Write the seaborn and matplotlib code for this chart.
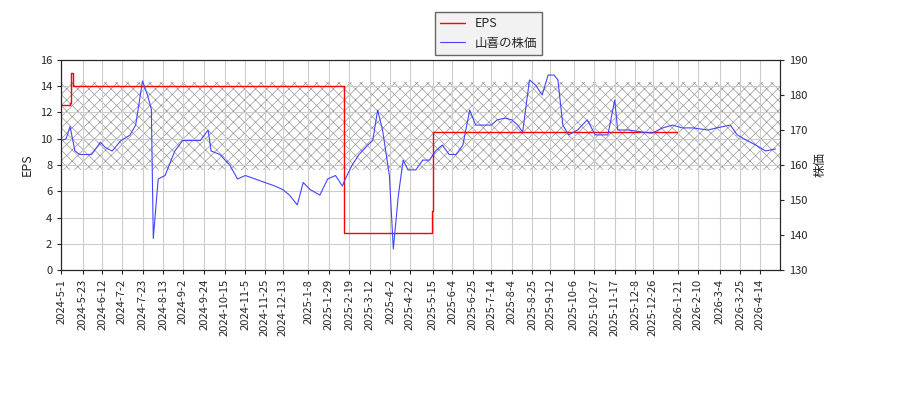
import matplotlib
matplotlib.use("Agg")
import matplotlib.pyplot as plt
import seaborn as sns
import pandas as pd
import numpy as np

sns.set_style("white")
plt.rcParams['font.family'] = ['Noto Sans CJK JP', 'DejaVu Sans']
plt.rcParams['hatch.linewidth'] = 0.5

price_dates = ["2024-05-01","2024-05-06","2024-05-10","2024-05-15","2024-05-20","2024-06-01","2024-06-10","2024-06-15",
 "2024-06-22","2024-07-01","2024-07-10","2024-07-16","2024-07-23","2024-07-28","2024-08-01","2024-08-03","2024-08-08",
 "2024-08-15","2024-08-25","2024-09-02","2024-09-10","2024-09-20","2024-09-28","2024-10-01","2024-10-10","2024-10-20",
 "2024-10-28","2024-11-05","2024-11-15","2024-11-25","2024-12-05","2024-12-13","2024-12-20","2024-12-28","2025-01-03",
 "2025-01-10","2025-01-20","2025-01-28","2025-02-05","2025-02-12","2025-02-15","2025-02-22","2025-03-01","2025-03-10",
 "2025-03-15","2025-03-20","2025-03-25","2025-04-01","2025-04-05","2025-04-10","2025-04-15","2025-04-20","2025-04-28",
 "2025-05-05","2025-05-12","2025-05-18","2025-05-25","2025-06-01","2025-06-08","2025-06-15","2025-06-22","2025-06-28",
 "2025-07-05","2025-07-14","2025-07-20","2025-07-28","2025-08-04","2025-08-10","2025-08-15","2025-08-22","2025-08-28",
 "2025-09-04","2025-09-10","2025-09-16","2025-09-20","2025-09-25","2025-10-01","2025-10-10","2025-10-20","2025-10-28",
 "2025-11-10","2025-11-17","2025-11-20","2025-12-01","2025-12-15","2025-12-25","2026-01-05","2026-01-15","2026-01-25",
 "2026-02-05","2026-02-20","2026-03-01","2026-03-15","2026-03-22","2026-04-01","2026-04-10","2026-04-20","2026-04-30"]
price_values = [167,167.5,171,164,163,163,166.5,165,164,167,168.5,171.4,184,180,176,139,156,157,164,167,167,167,170,
 164,163,160,156,157,156,155,154,153,151.4,148.6,155,153,151.4,156,157,154,156,160,163,165.7,167,175.7,170,157,136,151,
 161.4,158.6,158.6,161.4,161.4,164,165.7,163,163,165.7,175.7,171.4,171.4,171.4,172.9,173.4,172.9,171.4,169.4,184.3,
 182.9,180,185.7,185.7,184.3,171.4,168.6,170,172.9,168.6,168.6,178.6,170,170,169.4,169.1,170.6,171.4,170.6,170.6,170,
 170.6,171.4,168.6,167,165.7,164,164.6]

eps_dates = ["2024-05-01","2024-05-10","2024-05-11","2024-05-13","2025-02-12","2025-02-14","2025-05-14","2025-05-16","2026-01-20"]
eps_values = [12.6,12.7,15.0,14.0,14.0,2.8,4.5,10.5,10.5]

tick_labels = ["2024-5-1","2024-5-23","2024-6-12","2024-7-2","2024-7-23","2024-8-13","2024-9-2","2024-9-24",
 "2024-10-15","2024-11-5","2024-11-25","2024-12-13","2025-1-8","2025-1-29","2025-2-19","2025-3-12","2025-4-2",
 "2025-4-22","2025-5-15","2025-6-4","2025-6-25","2025-7-14","2025-8-4","2025-8-25","2025-9-12","2025-10-6",
 "2025-10-27","2025-11-17","2025-12-8","2025-12-26","2026-1-21","2026-2-10","2026-3-4","2026-3-25","2026-4-14"]

price = pd.DataFrame({"date": pd.to_datetime(price_dates), "v": price_values})
eps = pd.DataFrame({"date": pd.to_datetime(eps_dates), "v": eps_values})

fig = plt.figure(figsize=(9, 4), dpi=100)
ax = fig.add_axes([0.068, 0.325, 0.799, 0.525])
ax2 = ax.twinx()

start = pd.Timestamp("2024-05-01"); end = pd.Timestamp("2026-05-05")
ax.fill_between([start, end], 7.6, 14.3, facecolor="none", edgecolor="#999999", hatch="xxx", linewidth=0, zorder=0)

sns.lineplot(data=eps, x="date", y="v", ax=ax, color="red", drawstyle="steps-post", linewidth=1, label="EPS", legend=False)
sns.lineplot(data=price, x="date", y="v", ax=ax2, color="#4444ff", linewidth=0.8, label="山喜の株価", legend=False)

ax.set_ylim(0, 16); ax2.set_ylim(130, 190)
ax.set_xlim(start, end)
ax.set_yticks(range(0, 17, 2)); ax2.set_yticks(range(130, 191, 10))
ticks = pd.to_datetime(["-".join(f"{int(p):02d}" for p in t.split("-")) for t in tick_labels])
ax.set_xticks(ticks)
ax.set_xticklabels(tick_labels, rotation=90, fontsize=8)
ax.tick_params(axis="y", labelsize=8, left=True, length=3)
ax2.tick_params(axis="y", labelsize=8, right=True, length=3)
ax.tick_params(axis="x", bottom=True, length=3)
ax.grid(True, color="#cccccc", linewidth=0.8)
ax.set_xlabel(""); ax.set_ylabel("EPS", fontsize=9); ax2.set_ylabel("株価", fontsize=9)
for s in ax.spines.values(): s.set_color("black")

h1, l1 = ax.get_legend_handles_labels(); h2, l2 = ax2.get_legend_handles_labels()
fig.legend(h1 + h2, l1 + l2, loc="upper center", bbox_to_anchor=(0.543, 0.985), fontsize=9,
           fancybox=False, edgecolor="#666666", facecolor="#f2f2f2", framealpha=1)
fig.savefig("out.png")
